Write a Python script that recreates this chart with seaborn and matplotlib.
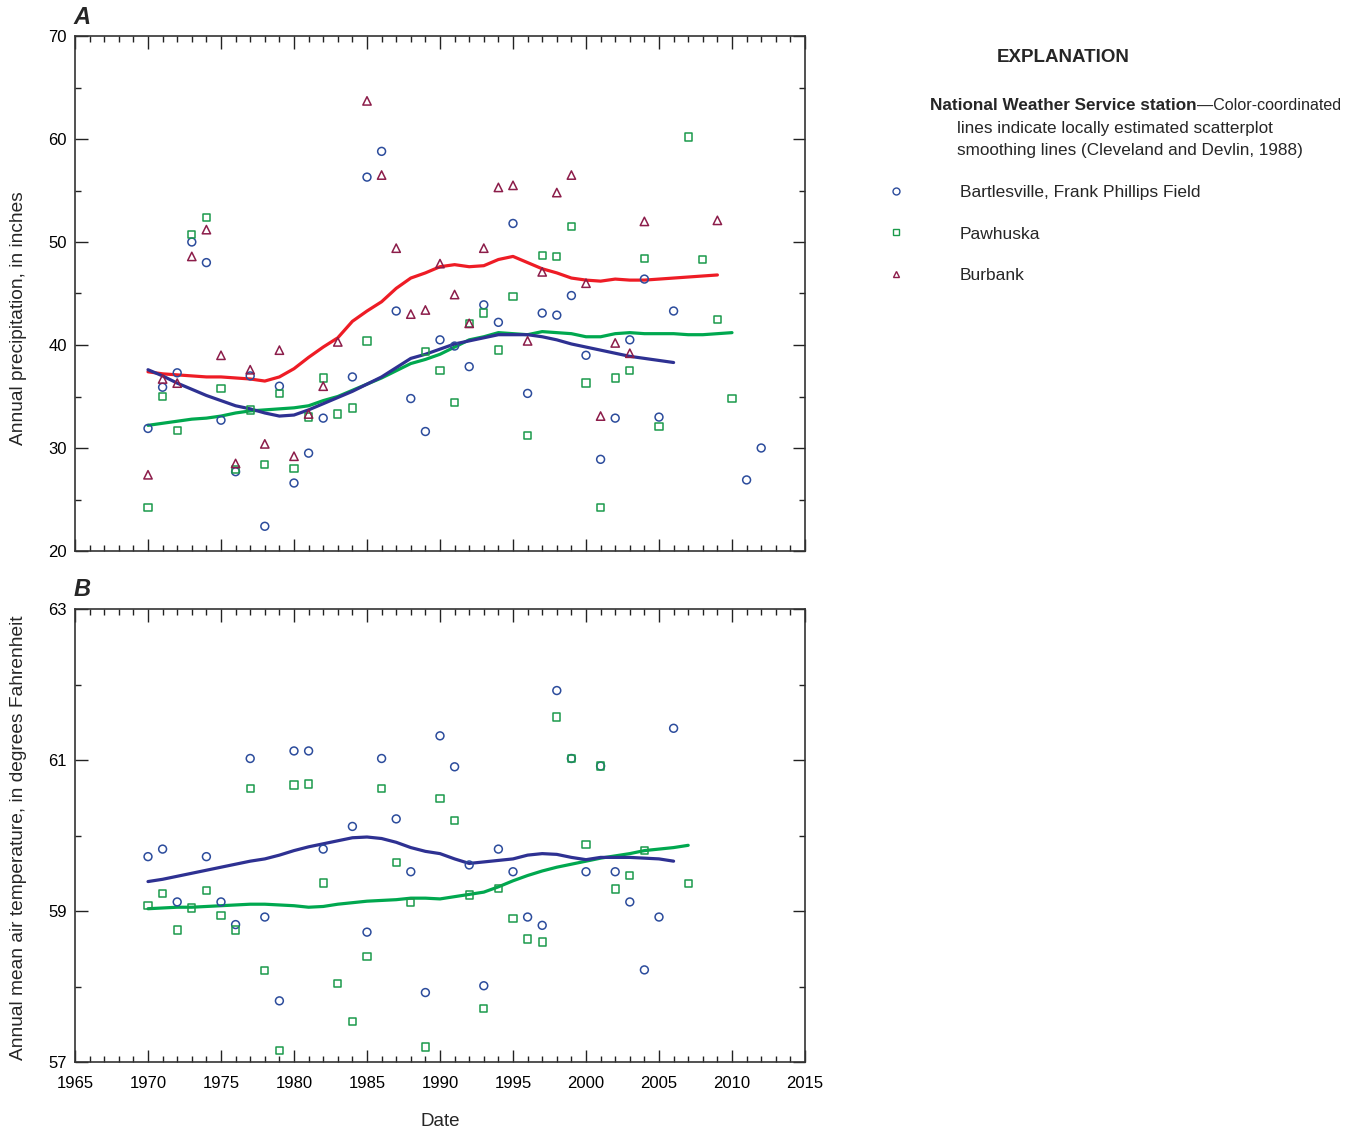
import numpy as np
import pandas as pd
import matplotlib
matplotlib.use("Agg")
import matplotlib.pyplot as plt
from matplotlib.lines import Line2D
from matplotlib.ticker import MultipleLocator, FixedLocator
import seaborn as sns

# ---------------- Panel A: annual precipitation (inches) ----------------
bart_p_years = [1970, 1971, 1972, 1973, 1974, 1975, 1976, 1977, 1978, 1979, 1980, 1981, 1982,
                1984, 1985, 1986, 1987, 1988, 1989, 1990, 1991, 1992, 1993, 1994, 1995, 1996,
                1997, 1998, 1999, 2000, 2001, 2002, 2003, 2004, 2005, 2006, 2011, 2012]
bart_p_vals = [31.9, 35.9, 37.3, 50.0, 48.0, 32.7, 27.7, 37.0, 22.4, 36.0, 26.6, 29.5, 32.9,
               36.9, 56.3, 58.8, 43.3, 34.8, 31.6, 40.5, 39.9, 37.9, 43.9, 42.2, 51.8, 35.3,
               43.1, 42.9, 44.8, 39.0, 28.9, 32.9, 40.5, 46.4, 33.0, 43.3, 26.9, 30.0]

paw_p_years = [1970, 1971, 1972, 1973, 1974, 1975, 1976, 1977, 1978, 1979, 1980, 1981, 1982,
               1983, 1984, 1985, 1989, 1990, 1991, 1992, 1993, 1994, 1995, 1996, 1997, 1998,
               1999, 2000, 2001, 2002, 2003, 2004, 2005, 2007, 2008, 2009, 2010]
paw_p_vals = [24.2, 35.0, 31.7, 50.7, 52.4, 35.8, 27.9, 33.7, 28.4, 35.3, 28.0, 33.0, 36.8,
              33.3, 33.9, 40.4, 39.4, 37.5, 34.4, 42.1, 43.1, 39.5, 44.7, 31.2, 48.7, 48.6,
              51.5, 36.3, 24.2, 36.8, 37.5, 48.4, 32.1, 60.2, 48.3, 42.5, 34.8]

bur_p_years = [1970, 1971, 1972, 1973, 1974, 1975, 1976, 1977, 1978, 1979, 1980, 1981, 1982,
               1983, 1985, 1986, 1987, 1988, 1989, 1990, 1991, 1992, 1993, 1994, 1995, 1996,
               1997, 1998, 1999, 2000, 2001, 2002, 2003, 2004, 2009]
bur_p_vals = [27.4, 36.7, 36.3, 48.6, 51.2, 39.0, 28.5, 37.6, 30.4, 39.5, 29.2, 33.3, 36.0,
              40.3, 63.7, 56.5, 49.4, 43.0, 43.4, 47.9, 44.9, 42.1, 49.4, 55.3, 55.5, 40.4,
              47.1, 54.8, 56.5, 46.0, 33.1, 40.2, 39.2, 52.0, 52.1]

# smoothing lines
bart_p_smooth_years = list(range(1970, 2007))
bart_p_smooth = [37.6, 37.0, 36.3, 35.7, 35.1, 34.6, 34.1, 33.8, 33.4, 33.1, 33.2, 33.7, 34.3,
                 34.9, 35.5, 36.2, 36.9, 37.8, 38.7, 39.1, 39.6, 40.1, 40.4, 40.7, 41.0, 41.0,
                 41.0, 40.8, 40.5, 40.1, 39.8, 39.5, 39.2, 38.9, 38.7, 38.5, 38.3]
paw_p_smooth_years = list(range(1970, 2011))
paw_p_smooth = [32.2, 32.4, 32.6, 32.8, 32.9, 33.1, 33.4, 33.6, 33.7, 33.8, 33.9, 34.1, 34.6,
                35.0, 35.6, 36.2, 36.8, 37.5, 38.2, 38.6, 39.1, 39.8, 40.5, 40.8, 41.2, 41.1,
                41.0, 41.3, 41.2, 41.1, 40.8, 40.8, 41.1, 41.2, 41.1, 41.1, 41.1, 41.0, 41.0,
                41.1, 41.2]
bur_p_smooth_years = list(range(1970, 2010))
bur_p_smooth = [37.4, 37.2, 37.1, 37.0, 36.9, 36.9, 36.8, 36.7, 36.5, 36.9, 37.7, 38.8, 39.8,
                40.7, 42.3, 43.3, 44.2, 45.5, 46.5, 47.0, 47.6, 47.8, 47.6, 47.7, 48.3, 48.6,
                48.0, 47.4, 47.0, 46.5, 46.3, 46.2, 46.4, 46.3, 46.3, 46.4, 46.5, 46.6, 46.7,
                46.8]

# ---------------- Panel B: annual mean air temperature (deg F) ----------------
bart_t_years = [1970, 1971, 1972, 1974, 1975, 1976, 1977, 1978, 1979, 1980, 1981, 1982, 1984,
                1985, 1986, 1987, 1988, 1989, 1990, 1991, 1992, 1993, 1994, 1995, 1996, 1997,
                1998, 1999, 2000, 2001, 2002, 2003, 2004, 2005, 2006]
bart_t_vals = [59.72, 59.82, 59.12, 59.72, 59.12, 58.82, 61.02, 58.92, 57.81, 61.12, 61.12,
               59.82, 60.12, 58.72, 61.02, 60.22, 59.52, 57.92, 61.32, 60.91, 59.61, 58.01,
               59.82, 59.52, 58.92, 58.81, 61.92, 61.02, 59.52, 60.92, 59.52, 59.12, 58.22,
               58.92, 61.42]

paw_t_years = [1970, 1971, 1972, 1973, 1974, 1975, 1976, 1977, 1978, 1979, 1980, 1981, 1982,
               1983, 1984, 1985, 1986, 1987, 1988, 1989, 1990, 1991, 1992, 1993, 1994, 1995,
               1996, 1997, 1998, 1999, 2000, 2001, 2002, 2003, 2004, 2007]
paw_t_vals = [59.07, 59.23, 58.75, 59.04, 59.27, 58.94, 58.75, 60.62, 58.21, 57.15, 60.67,
              60.68, 59.37, 58.04, 57.54, 58.40, 60.62, 59.64, 59.11, 57.20, 60.49, 60.20,
              59.21, 57.71, 59.30, 58.90, 58.63, 58.59, 61.57, 61.02, 59.88, 60.92, 59.29,
              59.47, 59.80, 59.36]

bart_t_smooth_years = list(range(1970, 2007))
bart_t_smooth = [59.39, 59.42, 59.46, 59.50, 59.54, 59.58, 59.62, 59.66, 59.69, 59.74, 59.80,
                 59.85, 59.89, 59.93, 59.97, 59.98, 59.96, 59.91, 59.84, 59.79, 59.76, 59.69,
                 59.63, 59.65, 59.67, 59.69, 59.74, 59.76, 59.75, 59.71, 59.68, 59.71, 59.71,
                 59.71, 59.70, 59.69, 59.66]
paw_t_smooth_years = list(range(1970, 2008))
paw_t_smooth = [59.03, 59.04, 59.05, 59.05, 59.06, 59.07, 59.08, 59.09, 59.09, 59.08, 59.07,
                59.05, 59.06, 59.09, 59.11, 59.13, 59.14, 59.15, 59.17, 59.17, 59.16, 59.19,
                59.22, 59.25, 59.32, 59.40, 59.47, 59.53, 59.58, 59.62, 59.66, 59.70, 59.73,
                59.76, 59.80, 59.82, 59.84, 59.87]

station_names = ["Bartlesville, Frank Phillips Field", "Pawhuska", "Burbank"]
temp_major_ticks = [57, 59, 61, 63]
temp_minor_ticks = [58, 60, 62]

# ---------------- styling ----------------
sns.set_theme(style="ticks")
plt.rcParams["font.family"] = ["Liberation Sans", "DejaVu Sans"]

C_BART_PT, C_BART_LN = "#2c4c9c", "#2e3192"
C_PAW_PT, C_PAW_LN = "#1b9a4b", "#00a84f"
C_BUR_PT, C_BUR_LN = "#8c1d4a", "#ee1c25"

W, H = 1347, 1132
fig = plt.figure(figsize=(W / 100, H / 100), dpi=100)


def rect(l, t, r, b):
    return [l / W, 1 - b / H, (r - l) / W, (b - t) / H]


axA = fig.add_axes(rect(75, 36, 805, 551))
axB = fig.add_axes(rect(75, 609, 805, 1062))

pt_kw = dict(linewidth=1.1, zorder=3, legend=False)


def scatter(ax, xs, ys, marker, col, s):
    sns.scatterplot(x=xs, y=ys, ax=ax, marker=marker, s=s, color=col,
                    facecolor="none", edgecolor=col, **pt_kw)


def smooth(ax, xs, ys, col):
    sns.lineplot(x=xs, y=ys, ax=ax, color=col, linewidth=2.3, zorder=2, legend=False)


# Panel A
smooth(axA, bur_p_smooth_years, bur_p_smooth, C_BUR_LN)
smooth(axA, paw_p_smooth_years, paw_p_smooth, C_PAW_LN)
smooth(axA, bart_p_smooth_years, bart_p_smooth, C_BART_LN)
scatter(axA, bart_p_years, bart_p_vals, "o", C_BART_PT, 32)
scatter(axA, paw_p_years, paw_p_vals, "s", C_PAW_PT, 28)
scatter(axA, bur_p_years, bur_p_vals, "^", C_BUR_PT, 36)

# Panel B
smooth(axB, paw_t_smooth_years, paw_t_smooth, C_PAW_LN)
smooth(axB, bart_t_smooth_years, bart_t_smooth, C_BART_LN)
scatter(axB, bart_t_years, bart_t_vals, "o", C_BART_PT, 32)
scatter(axB, paw_t_years, paw_t_vals, "s", C_PAW_PT, 28)

for ax in (axA, axB):
    ax.set_xlim(1965, 2015)
    ax.xaxis.set_major_locator(MultipleLocator(5))
    ax.xaxis.set_minor_locator(MultipleLocator(1))
    ax.tick_params(which="both", direction="in", top=True, right=True, bottom=True, left=True,
                   color="#222222", width=1.0, labelsize=12, labelcolor="black", pad=6)
    ax.tick_params(axis="x", which="major", pad=10)
    ax.tick_params(which="major", length=9)
    ax.tick_params(which="minor", length=4)
    for sp in ax.spines.values():
        sp.set_color("#333333")
        sp.set_linewidth(1.2)
    ax.set_ylabel("")
    ax.set_xlabel("")

axA.set_ylim(20, 70)
axA.yaxis.set_major_locator(MultipleLocator(10))
axA.yaxis.set_minor_locator(MultipleLocator(5))
axA.tick_params(axis="x", labelbottom=False)

axB.set_ylim(57, 63)
axB.yaxis.set_major_locator(FixedLocator(temp_major_ticks))
axB.yaxis.set_minor_locator(FixedLocator(temp_minor_ticks))
axB.set_xlabel("Date", fontsize=13.5, labelpad=16)

axA.set_ylabel("Annual precipitation, in inches", fontsize=13.8)
axB.set_ylabel("Annual mean air temperature, in degrees Fahrenheit", fontsize=13.8)
axA.yaxis.set_label_coords(-0.066, 0.452)
axB.yaxis.set_label_coords(-0.066, 0.495)

fig.text(82 / W, 1 - 18 / H, "A", ha="center", va="center", fontsize=17,
         fontweight="bold", style="italic")
fig.text(82 / W, 1 - 590 / H, "B", ha="center", va="center", fontsize=17,
         fontweight="bold", style="italic")

# ---------------- explanation ----------------
fig.text(1063 / W, 1 - 57 / H, "EXPLANATION", ha="center", va="center", fontsize=13.5,
         fontweight="bold")
t_bold = fig.text(930 / W, 1 - 106 / H, "National Weather Service station", ha="left",
                  va="center", fontsize=12.3, fontweight="bold")
fig.canvas.draw()
bb = t_bold.get_window_extent(renderer=fig.canvas.get_renderer())
fig.text(bb.x1 / W, 1 - 106 / H, "\u2014Color-coordinated", ha="left", va="center",
         fontsize=11.6)
fig.text(957 / W, 1 - 128 / H, "lines indicate locally estimated scatterplot", ha="left",
         va="center", fontsize=12.3)
fig.text(957 / W, 1 - 150 / H, "smoothing lines (Cleveland and Devlin, 1988)", ha="left",
         va="center", fontsize=12.3)

handles = [
    Line2D([], [], linestyle="none", marker="o", markersize=5, markerfacecolor="none",
           markeredgecolor=C_BART_PT, markeredgewidth=1.0),
    Line2D([], [], linestyle="none", marker="s", markersize=4.5, markerfacecolor="none",
           markeredgecolor=C_PAW_PT, markeredgewidth=1.0),
    Line2D([], [], linestyle="none", marker="^", markersize=5, markerfacecolor="none",
           markeredgecolor=C_BUR_PT, markeredgewidth=1.0),
]
fig.legend(handles, station_names, loc="upper left", bbox_to_anchor=(887 / W, 1 - 185 / H),
           frameon=False, fontsize=12.5, handlelength=1.0, handletextpad=3.2,
           labelspacing=1.51, borderpad=0, borderaxespad=0)

fig.savefig("out.png", dpi=100)
